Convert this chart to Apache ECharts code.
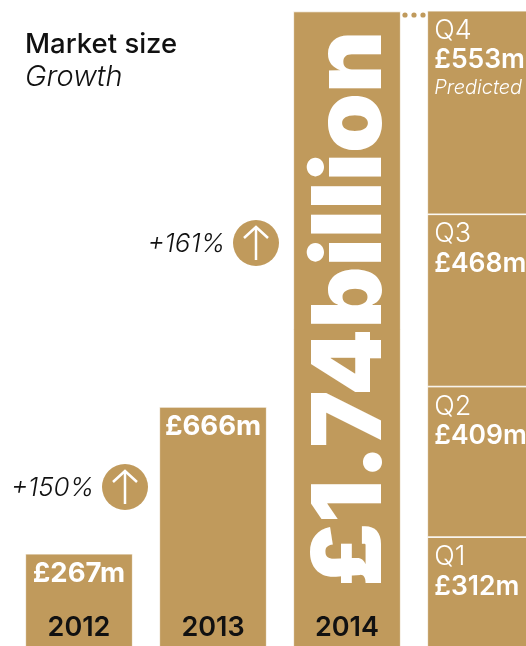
<!DOCTYPE html>
<html><head><meta charset="utf-8">
<style>html,body{margin:0;padding:0;background:#fff}#c{width:526px;height:646px}</style>
<script src="https://cdn.jsdelivr.net/npm/echarts@6/dist/echarts.min.js"></script></head>
<body><div id="c"></div>
<script>
const categories = ['2012','2013','2014',''];
const yearValues = [267,666,1740,null];
const yearLabels = ['£267m','£666m','£1.74billion',''];
const quarters = ['Q1','Q2','Q3','Q4'];
const quarterValues = [312,409,468,553];
const quarterNotes = ['','','','Predicted'];
const changes = ['+150%','+161%'];
const title = 'Market size';
const subtitle = 'Growth';

const gold = '#C09A5C', ink = '#111111', font = 'Inter, "DejaVu Sans", sans-serif';
const chart = echarts.init(document.getElementById('c'), null, {renderer:'canvas'});

const mainSeries = {
  type:'bar', stack:'t', barWidth:107.5, silent:true,
  itemStyle:{color:gold, borderColor:'#fff', borderWidth:0.75},
  data: yearValues.map((v,i)=> i===2 ? {
    value:v,
    label:{show:true, position:'inside', rotate:90, offset:[23,5], formatter:yearLabels[i],
      color:'#fff', fontFamily:font, fontWeight:900, fontSize:96}
  } : {
    value:v,
    label:{show:v!=null, position:'insideTop', distance:6, formatter:yearLabels[i],
      color:'#fff', fontFamily:font, fontWeight:700, fontSize:27.5}
  })
};
const qSeries = quarters.map((q,i)=>({
  type:'bar', stack:'t', barWidth:107.5, silent:true,
  itemStyle:{color:gold, borderColor:'#fff', borderWidth:0.75},
  data: categories.map((c,j)=> j===3 ? quarterValues[i] : null),
  label:{show:true, position:[7,6], align:'left', verticalAlign:'top',
    formatter:()=>`{q|${q}}\n{v|£${quarterValues[i]}m}` + (quarterNotes[i] ? `\n{n|${quarterNotes[i]}}` : ''),
    rich:{
      q:{color:'#fff',fontFamily:font,fontSize:27,fontWeight:300,lineHeight:28},
      v:{color:'#fff',fontFamily:font,fontSize:26.5,fontWeight:600,lineHeight:31},
      n:{color:'#fff',fontFamily:font,fontSize:20,fontStyle:'italic',fontWeight:300,lineHeight:24}
    }}
}));

function badge(cx, cy, txt){
  return [
    {type:'circle', z:10, shape:{cx, cy, r:23}, style:{fill:gold}},
    {type:'polyline', z:11, shape:{points:[[cx-12,cy-5],[cx,cy-16],[cx+12,cy-5]]}, style:{stroke:'#fff',lineWidth:2.5,fill:null}},
    {type:'line', z:11, shape:{x1:cx,y1:cy-16,x2:cx,y2:cy+17}, style:{stroke:'#fff',lineWidth:2.5}},
    {type:'text', z:10, x:cx-31, y:cy+1, style:{text:txt, fill:ink, font:'italic 300 26px '+font, textAlign:'right', textVerticalAlign:'middle'}}
  ];
}

chart.setOption({
  animation:false,
  backgroundColor:'#fff',
  grid:{left:12, top:10.7, width:536, height:641.3, outerBoundsMode:'none', containLabel:false},
  xAxis:{type:'category', z:5, data:categories, axisLine:{show:false}, axisTick:{show:false},
    axisLabel:{inside:true, margin:11, color:ink, fontFamily:font, fontWeight:600, fontSize:27, hideOverlap:false}},
  yAxis:{type:'value', min:0, max:1742, show:false, splitLine:{show:false}},
  series:[mainSeries, ...qSeries],
  graphic:[
    {type:'text', x:25, y:45, style:{text:title, fill:ink, font:'500 27.5px '+font, textVerticalAlign:'middle'}},
    {type:'text', x:25, y:77, style:{text:subtitle, fill:ink, font:'italic 300 29px '+font, textVerticalAlign:'middle'}},
    ...badge(125,487,changes[0]),
    ...badge(256,243,changes[1]),
    {type:'circle', shape:{cx:405,cy:15,r:2.6}, style:{fill:gold}},
    {type:'circle', shape:{cx:414,cy:15,r:2.6}, style:{fill:gold}},
    {type:'circle', shape:{cx:423,cy:15,r:2.6}, style:{fill:gold}}
  ]
});
</script></body></html>
